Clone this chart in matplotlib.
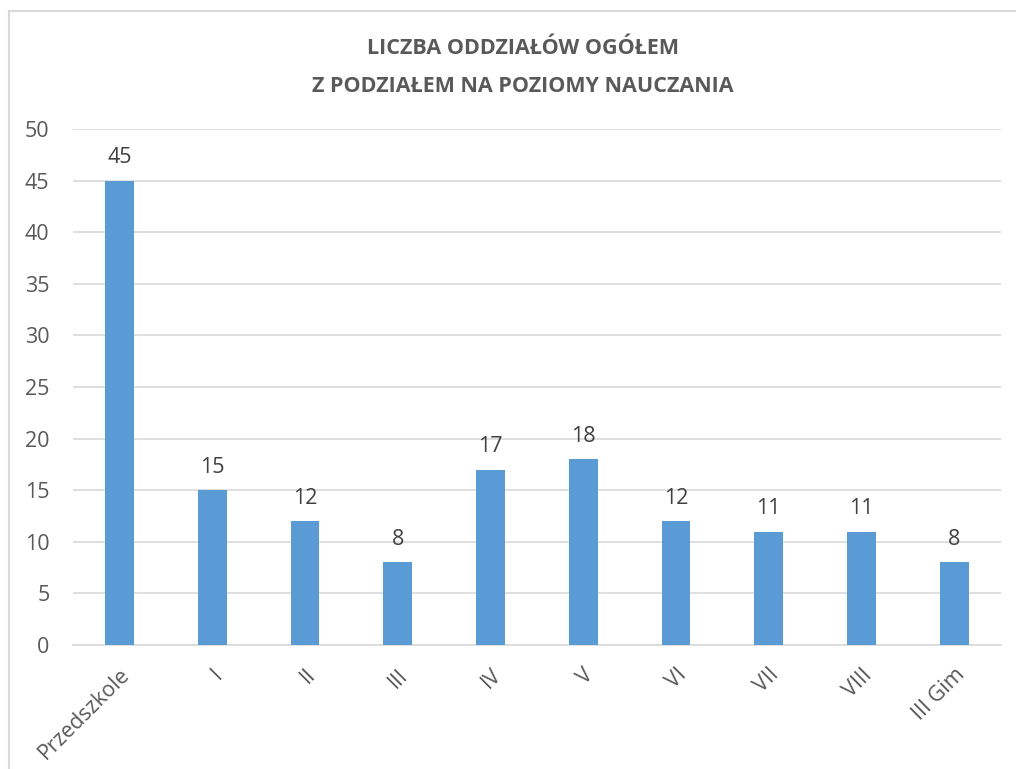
import matplotlib.pyplot as plt
from matplotlib.patches import Rectangle
import numpy as np

plt.rcParams['font.family'] = ['Open Sans', 'DejaVu Sans']

kategorie = ['Przedszkole', 'I', 'II', 'III', 'IV', 'V', 'VI', 'VII', 'VIII', 'III Gim']
oddzialy = [45, 15, 12, 8, 17, 18, 12, 11, 11, 8]
tytul = 'LICZBA ODDZIAŁÓW OGÓŁEM\nZ PODZIAŁEM NA POZIOMY NAUCZANIA'

fig = plt.figure(figsize=(10.16, 7.69), dpi=100)
ax = fig.add_axes([0.0719, 0.1612, 0.913, 0.671])

# ramka wykresu (ucieta z prawej i z dolu)
fig.patches.append(Rectangle((9/1016, -0.05), 1.1, 1 - 11/769 + 0.05, transform=fig.transFigure,
                             fill=False, edgecolor='#D9D9D9', linewidth=1.5))

x = np.arange(len(kategorie))
ax.bar(x, oddzialy, width=0.31, color='#5B9BD5', zorder=3)
for xi, v in zip(x, oddzialy):
    ax.text(xi, v + 1.2, str(v), ha='center', va='bottom', fontsize=15.5, color='#404040')

ax.set_xlim(-0.5, len(kategorie) - 0.5)
ax.set_ylim(0, 50)
ax.set_yticks(range(0, 51, 5))
ax.yaxis.grid(True, color='#D9D9D9', linewidth=1.2, zorder=0)
ax.set_axisbelow(True)
for s in ['top', 'right', 'left']:
    ax.spines[s].set_visible(False)
ax.spines['bottom'].set_color('#D9D9D9')
ax.spines['bottom'].set_linewidth(1.2)
ax.tick_params(axis='both', length=0, labelsize=15.5, labelcolor='#595959')
ax.tick_params(axis='y', pad=17)
ax.set_xticks(x)
ax.set_xticklabels(kategorie, rotation=45, ha='right', rotation_mode='anchor')
ax.tick_params(axis='x', pad=14)

fig.text(0.515, 0.912, tytul, ha='center', va='center', fontsize=15.5, fontweight='bold',
         color='#595959', linespacing=2.05)

fig.savefig('out.png', dpi=100)
